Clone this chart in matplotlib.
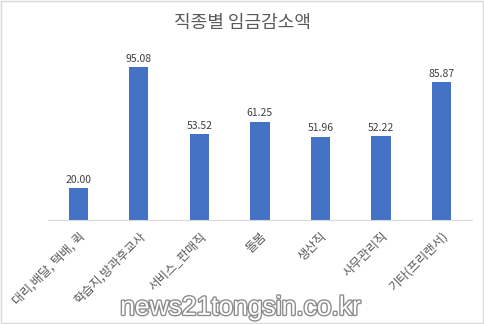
import matplotlib
matplotlib.use('Agg')
import matplotlib.pyplot as plt
import matplotlib.patheffects as pe

plt.rcParams['font.family'] = ['Noto Sans CJK KR', 'DejaVu Sans']

categories = ['대리,배달, 택배, 퀵', '학습지,방과후교사', '서비스_판매직', '돌봄',
              '생산직', '사무관리직', '기타(프리랜서)']
values = [20.00, 95.08, 53.52, 61.25, 51.96, 52.22, 85.87]

fig = plt.figure(figsize=(4.84, 3.24), dpi=100)
ax = fig.add_axes([0.099, 0.321, 0.876, 0.525])
bars = ax.bar(range(len(values)), values, width=0.32, color='#4472C4')
for i, v in enumerate(values):
    ax.text(i, v + 2, '{:.2f}'.format(v), ha='center', va='bottom', fontsize=7.5, color='#404040')

ax.set_xlim(-0.5, len(values) - 0.5)
ax.set_ylim(0, 106)
ax.set_yticks([])
ax.set_xticks(range(len(values)))
ax.set_xticklabels(categories, rotation=45, ha='right', rotation_mode='anchor',
                   fontsize=9, color='#595959')
ax.tick_params(axis='x', length=0, pad=7)
for s in ['top', 'right', 'left']:
    ax.spines[s].set_visible(False)
ax.spines['bottom'].set_color('#d9d9d9')

fig.text(0.5, 0.93, '직종별 임금감소액', ha='center', va='center', fontsize=13, color='#595959')

wm = fig.text(0.497, 0.05, 'news21tongsin.co.kr', ha='center', va='center', fontsize=19,
              color='white', family=['Arial', 'Liberation Sans', 'DejaVu Sans'])
wm.set_path_effects([pe.withStroke(linewidth=2, foreground='#8c8c8c')])

border = plt.Rectangle((0.002, 0.003), 0.996, 0.994, transform=fig.transFigure,
                       fill=False, edgecolor='#d9d9d9', linewidth=1)
fig.patches.append(border)

fig.savefig('out.png', dpi=100)
